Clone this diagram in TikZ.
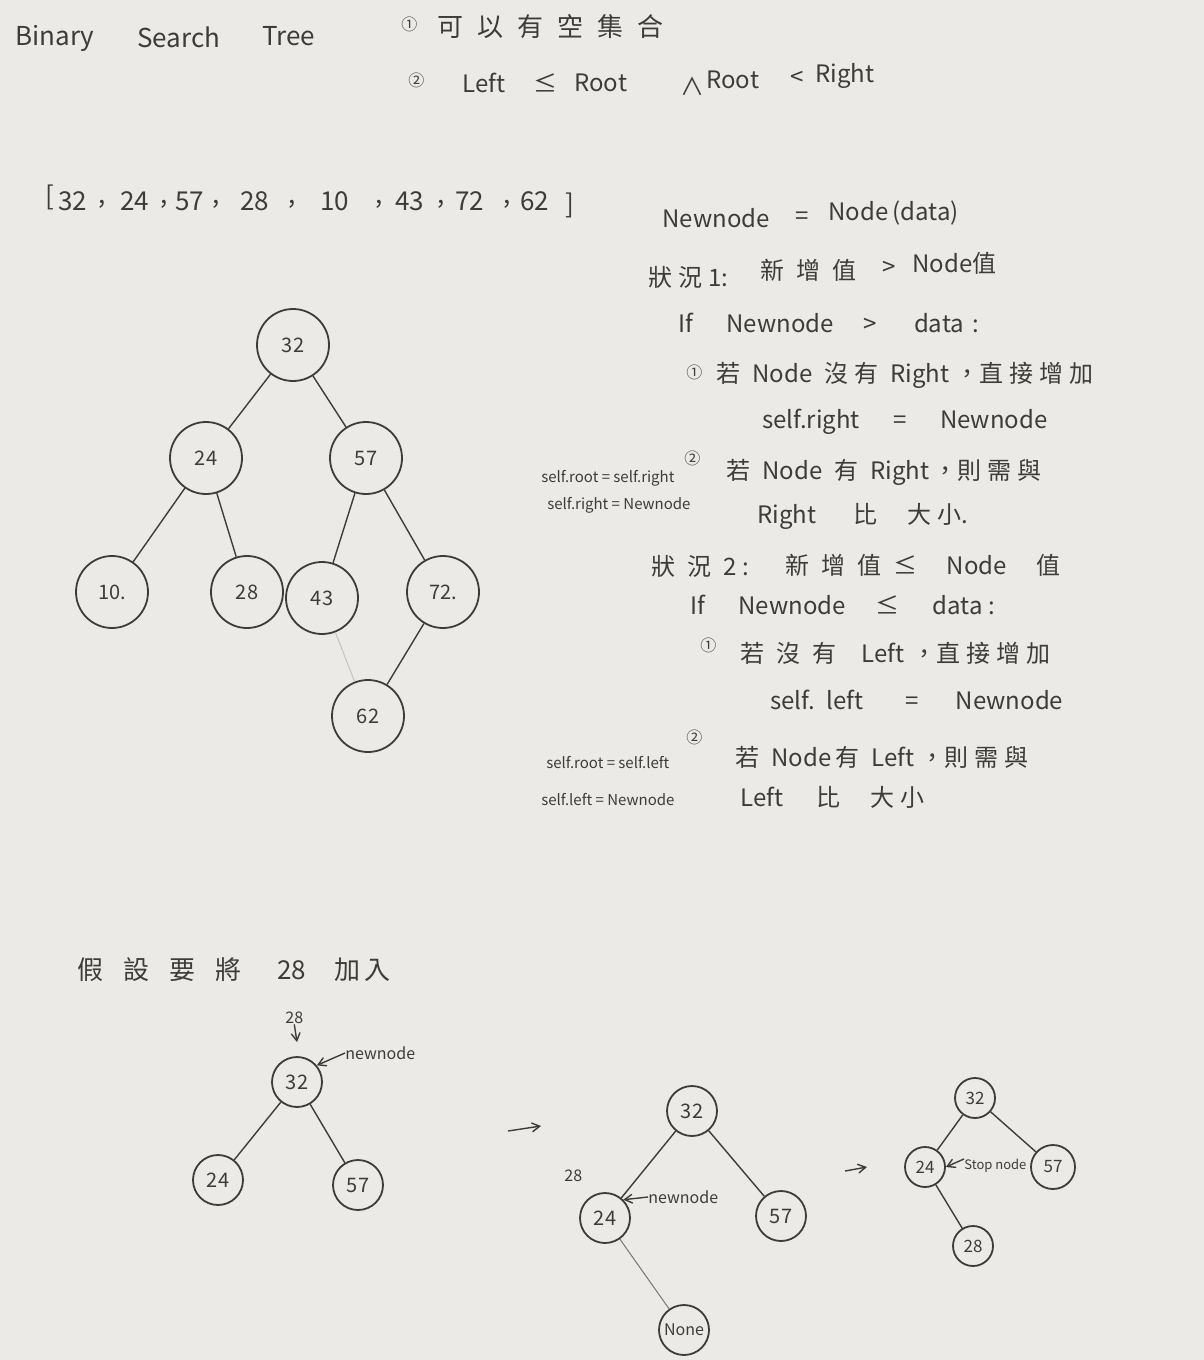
\documentclass[tikz,border=0pt]{standalone}
\usepackage{fontspec}
\setmainfont{Noto Sans CJK TC}
\usepackage{xcolor}
\usetikzlibrary{arrows}
\definecolor{paper}{RGB}{236,234,230}
\definecolor{pencil}{RGB}{62,60,58}
\newcommand{\wsp}[1][6pt]{\hspace{#1}}
\tikzstyle{txt} = [text=pencil, inner sep=0pt, anchor=west,
                   font=\fontsize{12}{14}\selectfont]
\tikzstyle{title} = [txt, font=\fontsize{13}{16}\selectfont]
\tikzstyle{note} = [txt, font=\fontsize{7.5}{9}\selectfont]
\tikzstyle{small} = [txt, font=\fontsize{8}{9}\selectfont]
\tikzstyle{bignode} = [circle, draw=pencil, line width=0.9pt, minimum size=36pt,
                       inner sep=0pt, text=pencil, font=\fontsize{10}{12}\selectfont]
\tikzstyle{midnode} = [bignode, minimum size=25pt]
\tikzstyle{smallnode} = [bignode, minimum size=20pt, font=\fontsize{8.5}{10}\selectfont]
\tikzstyle{edge} = [draw=pencil, line width=0.7pt]
\tikzstyle{line} = [draw=pencil, line width=0.7pt, -angle 60]

\begin{document}
\begin{tikzpicture}[x=0.5pt, y=-0.5pt]
  \fill[paper] (0,0) rectangle (1204,1360);
  \useasboundingbox (0,0) rectangle (1204,1360);
  % Title and rules
  \node [title] (bin) at (15,38) {Binary};
  \node [title] (sea) at (137,37) {Search};
  \node [title] (tre) at (262,36) {Tree};
  \node [small] (r1) at (401,24) {①};
  \node [title] (empty) at (437,27) {可\wsp[7pt]以\wsp[7pt]有\wsp[7pt]空\wsp[7pt]集\wsp[7pt]合};
  \node [small] (r2) at (408,80) {②};
  \node [txt] (lft) at (462,83) {Left};
  \node [txt] (le) at (533,83) {≤};
  \node [txt] (rta) at (574,83) {Root};
  \node [txt] (and) at (680,86) {∧};
  \node [txt] (rtb) at (706,80) {Root};
  \node [txt] (lt) at (790,78) {<};
  \node [txt] (rgt) at (815,76) {Right};
  % Input list
  \node [title] (lb) at (45,197) {[};
  \foreach \v/\x [count=\i] in {32/58,24/120,57/175,28/240,10/320,43/395,72/455,62/520}
    \node [title] (v\i) at (\x,201) {\v};
  \foreach \x [count=\i] in {98,160,212,288,375,437,503}
    \node [title] (cm\i) at (\x,204) {,};
  \node [title] (rb) at (565,205) {]};

  % Insert rules
  \node [txt] (nwa) at (662,218) {Newnode};
  \node [txt] (eqa) at (795,218) {=};
  \node [txt] (nda) at (828,213) {Node\wsp[2pt](data)};

  \node [txt] (sta) at (648,277) {狀\wsp[3pt]況\wsp[3pt]1:};
  \node [txt] (ada) at (760,270) {新\wsp 增\wsp 值};
  \node [txt] (gta) at (882,268) {>};
  \node [txt] (ndb) at (912,263) {Node值};
  \node [txt] (ifa) at (678,323) {If\wsp[14pt] Newnode\wsp[12pt] >\wsp[16pt] data\wsp[4pt]:};
  \node [small] (ra1) at (686,372) {①};
  \node [txt] (ra1t) at (716,375) {若\wsp Node\wsp 沒\wsp[3pt]有\wsp Right\wsp[3pt]，直\wsp[3pt]接\wsp[3pt]增\wsp[3pt]加};
  \node [txt] (sra) at (762,422) {self.right\wsp[14pt] =\wsp[14pt] Newnode};
  \node [small] (ra2) at (684,458) {②};
  \node [txt] (ra2t) at (726,472) {若\wsp Node\wsp 有\wsp Right\wsp[2pt]，則\wsp[3pt]需\wsp[3pt]與};
  \node [txt] (cmpa) at (757,516) {Right\wsp[16pt] 比\wsp[12pt] 大\wsp[3pt]小.};
  \node [note] (nra) at (541,478) {self.root = self.right};
  \node [note] (nrb) at (547,505) {self.right = Newnode};

  \node [txt] (stb) at (651,566) {狀\wsp[6pt]況\wsp[6pt]2\wsp[3pt]:};
  \node [txt] (adb) at (785,565) {新\wsp 增\wsp 值\wsp ≤\wsp[12pt] Node\wsp[12pt] 值};
  \node [txt] (ifb) at (690,605) {If\wsp[14pt] Newnode\wsp[12pt] ≤\wsp[14pt] data\wsp[3pt]:};
  \node [small] (rb1) at (700,645) {①};
  \node [txt] (rb1t) at (740,653) {若\wsp 沒\wsp 有\wsp[10pt] Left\wsp[4pt]，直\wsp[3pt]接\wsp[3pt]增\wsp[3pt]加};
  \node [txt] (sla) at (770,700) {self.\wsp left\wsp[18pt] =\wsp[16pt] Newnode};
  \node [small] (rb2) at (686,737) {②};
  \node [txt] (rb2t) at (735,757) {若\wsp Node\wsp[2pt]有\wsp Left\wsp[3pt]，則\wsp[3pt]需\wsp[3pt]與};
  \node [txt] (cmpb) at (740,797) {Left\wsp[14pt] 比\wsp[12pt] 大\wsp[3pt]小};
  \node [note] (nla) at (546,763) {self.root = self.left};
  \node [note] (nlb) at (541,800) {self.left = Newnode};

  % First tree
  \node [bignode] (t32) at (293,345) {32};
  \node [bignode] (t24) at (206,458) {24};
  \node [bignode] (t57) at (366,458) {57};
  \node [bignode] (t10) at (112,592) {10.};
  \node [bignode] (t28) at (247,592) {28};
  \node [bignode] (t43) at (322,598) {43};
  \node [bignode] (t72) at (443,592) {72.};
  \node [bignode] (t62) at (368,716) {62};
  \path [edge] (t32) -- (t24);
  \path [edge] (t32) -- (t57);
  \path [edge] (t24) -- (t10);
  \path [edge] (t24) -- (t28);
  \path [edge] (t57) -- (t43);
  \path [edge] (t57) -- (t72);
  \path [edge] (t72) -- (t62);
  \path [draw=pencil!30, line width=0.5pt] (t43) -- (t62);

  % Insert example
  \node [title] (sup) at (77,970) {假\wsp[10pt]設\wsp[10pt]要\wsp[10pt]將\wsp[18pt]28\wsp[14pt]加\wsp[2pt]入};

  \node [small] (in28) at (285,1018) {28};
  \node [midnode] (b32) at (297,1082) {32};
  \node [midnode] (b24) at (218,1180) {24};
  \node [midnode] (b57) at (358,1185) {57};
  \node [small] (nwb) at (345,1053) {newnode};
  \path [edge] (b32) -- (b24);
  \path [edge] (b32) -- (b57);
  \path [line] (in28.south) -- ([yshift=7pt]b32.north);
  \path [line] (nwb.west) -- (b32.40);

  \coordinate (ar1) at (508,1131);
  \coordinate (ar2) at (541,1126);
  \path [line] (ar1) -- (ar2);

  \node [small] (c28) at (564,1176) {28};
  \node [midnode] (c32) at (692,1111) {32};
  \node [midnode] (c24) at (605,1218) {24};
  \node [midnode] (c57) at (781,1216) {57};
  \node [midnode, font=\fontsize{8}{9}\selectfont] (cnn) at (684,1330) {None};
  \node [small] (nwc) at (648,1197) {newnode};
  \path [edge] (c32) -- (c24);
  \path [edge] (c32) -- (c57);
  \path [edge, draw=pencil!70, line width=0.5pt] (c24) -- (cnn);
  \path [line] (nwc.west) -- (c24.45);

  \coordinate (ar3) at (845,1171);
  \coordinate (ar4) at (867,1167);
  \path [line] (ar3) -- (ar4);

  \node [smallnode] (d32) at (975,1098) {32};
  \node [smallnode] (d24) at (925,1167) {24};
  \node [smallnode, minimum size=22pt] (d57) at (1053,1167) {57};
  \node [smallnode] (d28) at (973,1246) {28};
  \node [txt, font=\fontsize{6.5}{8}\selectfont] (stop) at (964,1166) {Stop node};
  \path [edge] (d32) -- (d24);
  \path [edge] (d32) -- (d57);
  \path [edge] (d24) -- (d28);
  \path [line] (stop.north west) -- (d24.east);
\end{tikzpicture}
\end{document}
